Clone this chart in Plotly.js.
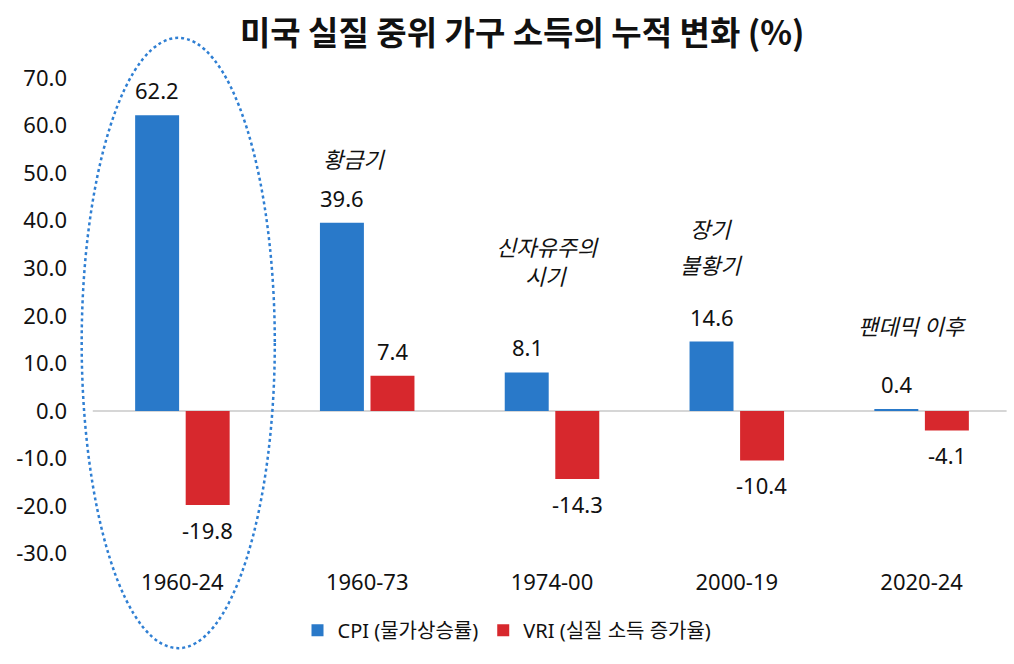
<!DOCTYPE html>
<html>
<head>
<meta charset="utf-8">
<script src="https://cdn.plot.ly/plotly-3.0.1.min.js"></script>
<style>html,body{margin:0;padding:0;background:#fff;}#chart{width:1014px;height:664px;}</style>
</head>
<body>
<div id="chart"></div>
<script>
const categories = ["1960-24", "1960-73", "1974-00", "2000-19", "2020-24"];
const cpiValues = [62.2, 39.6, 8.1, 14.6, 0.4];
const vriValues = [-19.8, 7.4, -14.3, -10.4, -4.1];
const seriesNames = ["CPI (물가상승률)", "VRI (실질 소득 증가율)"];
const periodNoteLines = ["황금기", "신자유주의", "시기", "장기", "불황기", "팬데믹 이후"];
const yTicks = [-30, -20, -10, 0, 10, 20, 30, 40, 50, 60, 70];

const FONT = '"Noto Sans", "Noto Sans CJK KR", sans-serif';
const KFONT = '"Noto Sans CJK KR", "Noto Sans", sans-serif';
const BLUE = '#2979c9';
const RED = '#d7282d';

const traces = [
  {type: 'bar', name: seriesNames[0], x: categories, y: cpiValues,
   marker: {color: BLUE}, hoverinfo: 'skip'},
  {type: 'bar', name: seriesNames[1], x: categories, y: vriValues,
   marker: {color: RED}, hoverinfo: 'skip'}
];

const BAR_OFFSET = 25;
function valueLabels(vals, dir) {
  return vals.map((v, i) => ({
    x: categories[i], y: v, xref: 'x', yref: 'y',
    text: v.toFixed(1), showarrow: false,
    xshift: dir * BAR_OFFSET,
    yanchor: v >= 0 ? 'bottom' : 'top',
    yshift: v >= 0 ? 8 : -8,
    font: {family: FONT, size: 22, color: '#111'}
  }));
}

const notePos = [
  [0.93, 53.2], [1.973, 34.6], [1.97, 28.5], [2.86, 38.4], [2.86, 30.8], [3.95, 18.1]
];
const noteAnn = periodNoteLines.map((t, i) => ({
  x: notePos[i][0], y: notePos[i][1], text: t,
  xref: 'x', yref: 'y', showarrow: false, xanchor: 'center', yanchor: 'middle',
  font: {family: KFONT, size: 22, color: '#111', style: 'italic'}
}));

const layout = {
  width: 1014, height: 664,
  paper_bgcolor: '#fff', plot_bgcolor: '#fff',
  margin: {l: 90, r: 0, t: 70, b: 99},
  font: {family: FONT, color: '#111'},
  title: {
    text: '<b>미국 실질 중위 가구 소득의 누적 변화 (%)</b>',
    font: {family: KFONT, size: 33, color: '#111'},
    x: 0.515, xref: 'container', xanchor: 'center',
    y: 0.95, yref: 'container', yanchor: 'middle'
  },
  barmode: 'group', bargap: 0.453, bargroupgap: 0.13,
  xaxis: {
    type: 'category', showgrid: false, zeroline: false, showline: false,
    ticks: '', tickfont: {family: FONT, size: 22, color: '#111'},
    ticklabelstandoff: 2, automargin: false
  },
  yaxis: {
    range: [-32.4, 71.7], tickvals: yTicks, ticktext: yTicks.map(v => v.toFixed(1)),
    showgrid: false, zeroline: false, showline: false, ticks: '',
    tickfont: {family: FONT, size: 22, color: '#111'},
    ticklabelstandoff: 22, automargin: false
  },
  showlegend: true,
  legend: {
    orientation: 'h', xref: 'container', yref: 'container',
    x: 0.5, xanchor: 'center', y: 0.051, yanchor: 'middle',
    font: {family: FONT, size: 20, color: '#111'},
    itemwidth: 30, tracegroupgap: 0
  },
  shapes: [
    {type: 'line', xref: 'paper', yref: 'y', x0: 0.003, x1: 0.992, y0: 0, y1: 0,
     line: {color: '#c8c8c8', width: 1.5}, layer: 'below'},
    {type: 'circle', xref: 'paper', yref: 'paper', x0: -0.009, x1: 0.2, y0: -0.168, y1: 1.065,
     line: {color: '#2f7fd3', width: 2.5, dash: 'dot'}}
  ],
  annotations: valueLabels(cpiValues, -1).concat(valueLabels(vriValues, 1), noteAnn)
};

Plotly.newPlot('chart', traces, layout, {displayModeBar: false, staticPlot: true});
</script>
</body>
</html>
